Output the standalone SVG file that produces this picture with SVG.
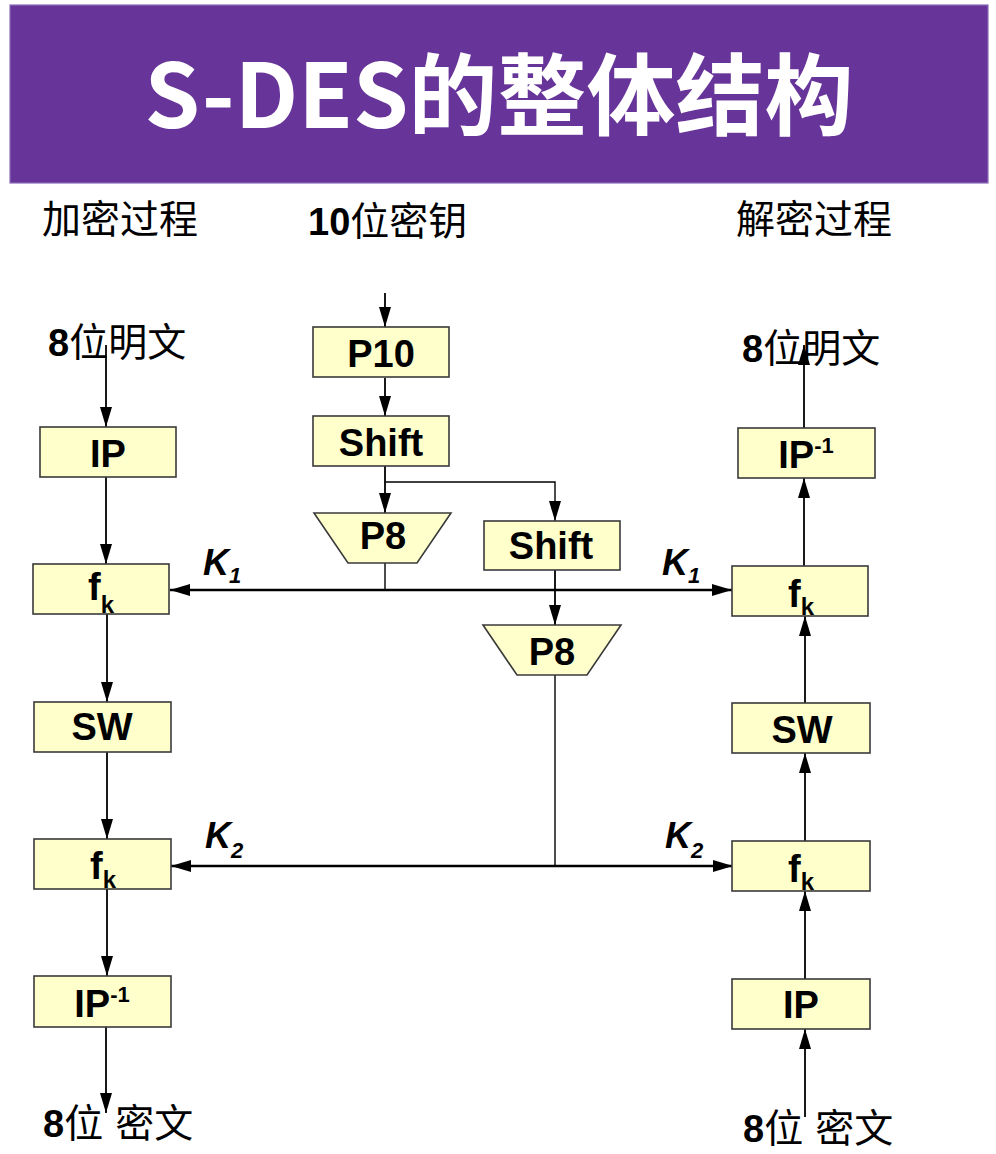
<svg xmlns="http://www.w3.org/2000/svg" width="996" height="1154" viewBox="0 0 996 1154">
<style>
.box{fill:#FFFFCC;stroke:#3a3a3a;stroke-width:1.6}
.bt{font-family:"Liberation Sans",Arial,sans-serif;font-weight:bold;font-size:38px;fill:#000;text-anchor:middle}
.lbl{font-family:"Liberation Sans","Noto Sans CJK SC",sans-serif;font-size:38px;fill:#000}
.cjk{font-family:"Noto Sans CJK SC",sans-serif;font-weight:normal;font-size:39px}
.num{font-weight:bold}
.k{font-family:"Liberation Sans",Arial,sans-serif;font-weight:bold;font-style:italic;font-size:36px;fill:#000}
.ln{fill:none;stroke:#000;stroke-width:1.8}
.thin{fill:none;stroke:#000;stroke-width:1.4}
.kl{fill:none;stroke:#000;stroke-width:2.4}
</style>
<defs>
<marker id="ah" viewBox="0 0 20 12" refX="20" refY="6" markerUnits="userSpaceOnUse" markerWidth="20" markerHeight="12" orient="auto-start-reverse">
<path d="M0,0 L20,6 L0,12 z" fill="#000"/>
</marker>
</defs>
<g id="title">
<rect x="10" y="5" width="978" height="178" fill="#673499" stroke="#8b6cb8" stroke-width="1.2"/>
<text x="499" y="128" font-family="'Noto Sans CJK SC',sans-serif" font-weight="bold" font-size="89" fill="#fff" text-anchor="middle">S-DES的整体结构</text>
</g>
<g id="labels">
<text class="lbl cjk" x="42" y="233" font-size="40">加密过程</text>
<text class="lbl" x="308" y="235"><tspan class="num">10</tspan><tspan class="cjk">位密钥</tspan></text>
<text class="lbl cjk" x="736" y="233" font-size="40">解密过程</text>
<text class="lbl" x="48" y="356"><tspan class="num">8</tspan><tspan class="cjk" font-size="40">位明文</tspan></text>
<text class="lbl" x="742" y="362"><tspan class="num">8</tspan><tspan class="cjk" font-size="40">位明文</tspan></text>
<text class="lbl" x="43" y="1137"><tspan class="num">8</tspan><tspan class="cjk" font-size="40">位</tspan><tspan class="cjk" font-size="40" dx="12">密文</tspan></text>
<text class="lbl" x="743" y="1142"><tspan class="num">8</tspan><tspan class="cjk" font-size="40">位</tspan><tspan class="cjk" font-size="40" dx="12">密文</tspan></text>
</g>
<g id="klabels">
<text class="k" x="203" y="575">K<tspan font-size="22" dy="8">1</tspan></text>
<text class="k" x="662" y="575">K<tspan font-size="22" dy="8">1</tspan></text>
<text class="k" x="205" y="848">K<tspan font-size="22" dy="10">2</tspan></text>
<text class="k" x="665" y="848">K<tspan font-size="22" dy="10">2</tspan></text>
</g>
<g id="connectors">
<path class="ln" d="M106,345 V427" marker-end="url(#ah)"/>
<path class="ln" d="M106,477 V564" marker-end="url(#ah)"/>
<path class="ln" d="M107,614 V702" marker-end="url(#ah)"/>
<path class="ln" d="M107,752 V839" marker-end="url(#ah)"/>
<path class="ln" d="M107,889 V976" marker-end="url(#ah)"/>
<path class="ln" d="M106,1027 V1113" marker-end="url(#ah)"/>
<path class="ln" d="M385,293 V327" marker-end="url(#ah)"/>
<path class="ln" d="M385,378 V416" marker-end="url(#ah)"/>
<path class="ln" d="M385,466 V513" marker-end="url(#ah)"/>
<path class="thin" d="M385,482 H555 V521" marker-end="url(#ah)"/>
<path class="thin" d="M385,563 V590"/>
<path class="ln" d="M555,570 V625" marker-end="url(#ah)"/>
<path class="thin" d="M555,675 V866"/>
<path class="kl" d="M170,590 H732" marker-start="url(#ah)" marker-end="url(#ah)"/>
<path class="kl" d="M171,866 H733" marker-start="url(#ah)" marker-end="url(#ah)"/>
<path class="ln" d="M804,428 V345" marker-end="url(#ah)"/>
<path class="ln" d="M804,566 V478" marker-end="url(#ah)"/>
<path class="ln" d="M805,703 V616" marker-end="url(#ah)"/>
<path class="ln" d="M805,841 V753" marker-end="url(#ah)"/>
<path class="ln" d="M805,979 V891" marker-end="url(#ah)"/>
<path class="ln" d="M805,1117 V1029" marker-end="url(#ah)"/>
</g>
<g id="enc-ip"><rect class="box" x="40" y="427" width="136" height="50"/><text class="bt" x="108" y="467">IP</text></g>
<g id="enc-fk1"><rect class="box" x="33" y="564" width="136" height="50"/><text class="bt" x="101" y="600">f<tspan font-size="24" dy="13">k</tspan></text></g>
<g id="enc-sw"><rect class="box" x="34" y="702" width="137" height="50"/><text class="bt" x="102" y="740">SW</text></g>
<g id="enc-fk2"><rect class="box" x="34" y="839" width="137" height="50"/><text class="bt" x="103" y="879">f<tspan font-size="24" dy="9">k</tspan></text></g>
<g id="enc-ipinv"><rect class="box" x="34" y="976" width="137" height="51"/><text class="bt" x="102" y="1017">IP<tspan font-size="22" dy="-15">-1</tspan></text></g>
<g id="p10"><rect class="box" x="313" y="327" width="136" height="50"/><text class="bt" x="381" y="367">P10</text></g>
<g id="shift1"><rect class="box" x="313" y="416" width="136" height="50"/><text class="bt" x="381" y="456">Shift</text></g>
<g id="p8a"><polygon class="box" points="314,513 451,513 417,563 348,563"/><text class="bt" x="383" y="549">P8</text></g>
<g id="shift2"><rect class="box" x="484" y="521" width="136" height="49"/><text class="bt" x="551" y="559">Shift</text></g>
<g id="p8b"><polygon class="box" points="483,625 621,625 587,675 517,675"/><text class="bt" x="552" y="665">P8</text></g>
<g id="dec-ipinv"><rect class="box" x="738" y="428" width="137" height="50"/><text class="bt" x="806" y="468">IP<tspan font-size="22" dy="-15">-1</tspan></text></g>
<g id="dec-fk1"><rect class="box" x="732" y="566" width="136" height="50"/><text class="bt" x="801" y="607">f<tspan font-size="24" dy="8">k</tspan></text></g>
<g id="dec-sw"><rect class="box" x="732" y="703" width="138" height="50"/><text class="bt" x="802" y="743">SW</text></g>
<g id="dec-fk2"><rect class="box" x="732" y="841" width="138" height="50"/><text class="bt" x="801" y="882">f<tspan font-size="24" dy="8">k</tspan></text></g>
<g id="dec-ip"><rect class="box" x="732" y="979" width="138" height="50"/><text class="bt" x="801" y="1018">IP</text></g>
</svg>
